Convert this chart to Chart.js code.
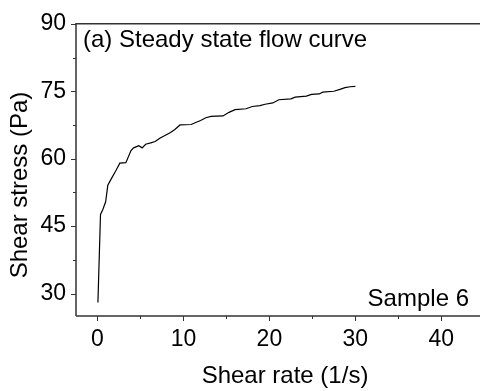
<!DOCTYPE html>
<html>
<head>
<meta charset="utf-8">
<script src="https://cdn.jsdelivr.net/npm/chart.js@4"></script>
<style>
    html, body { margin: 0; padding: 0; background: #fff; }
    #wrap { width: 480px; height: 391px; }
</style>
</head>
<body>
<div id="wrap"><canvas id="flow"></canvas></div>
<script>
// steady state flow curve, sample 6
const shearRate = [0.05, 0.35, 0.6, 0.95, 1.2, 1.6, 2.1, 2.6, 3.3, 3.9, 4.2, 4.8, 5.2, 5.6, 6.2, 6.7,
    7.3, 7.9, 8.5, 9.0, 9.6, 10.9, 11.5, 12.0, 12.6, 13.2, 14.6, 15.3, 16.0, 17.3, 18.0, 18.9, 19.5,
    20.4, 21.1, 22.5, 23.0, 24.3, 24.9, 25.8, 26.2, 27.5, 28.2, 28.8, 29.4, 30.0]
const shearStress = [28.0, 47.6, 48.6, 50.4, 54.1, 55.5, 57.2, 59.0, 59.1, 61.8, 62.4, 62.9, 62.4, 63.2, 63.5, 63.8,
    64.6, 65.2, 65.8, 66.5, 67.5, 67.6, 68.1, 68.5, 69.1, 69.4, 69.5, 70.3, 70.9, 71.1, 71.6, 71.8, 72.1,
    72.4, 73.1, 73.3, 73.7, 73.9, 74.3, 74.4, 74.8, 75.0, 75.4, 75.8, 76.0, 76.1]

const xTicks = [0, 10, 20, 30, 40]
const xMinor = [5, 15, 25, 35]
const yTicks = [30, 45, 60, 75, 90]
const yMinor = [37.5, 52.5, 67.5, 82.5]

const axisColor = '#333'
const font = 'Liberation Sans, Arial, sans-serif'

const points = shearRate.map((x, i) => ({x: x, y: shearStress[i]}))

// axis frame, tick marks, titles and the two notes
const decor = {
    id: 'decor',
    afterDraw(chart) {
        const ctx = chart.ctx
        const area = chart.chartArea
        const sx = chart.scales.x
        const sy = chart.scales.y
        ctx.save()
        ctx.strokeStyle = axisColor
        ctx.lineWidth = 1.5
        ctx.beginPath()
        ctx.moveTo(area.left, area.bottom)
        ctx.lineTo(area.left, area.top)
        ctx.lineTo(area.right, area.top)
        ctx.moveTo(area.left, area.bottom)
        ctx.lineTo(area.right, area.bottom)
        ctx.stroke()

        ctx.lineWidth = 1
        ctx.beginPath()
        for (let v of xTicks) {
            const px = Math.round(sx.getPixelForValue(v)) + 0.5
            ctx.moveTo(px, area.bottom); ctx.lineTo(px, area.bottom + 5)
        }
        for (let v of xMinor) {
            const px = Math.round(sx.getPixelForValue(v)) + 0.5
            ctx.moveTo(px, area.bottom); ctx.lineTo(px, area.bottom + 3)
        }
        for (let v of yTicks) {
            const py = Math.round(sy.getPixelForValue(v)) + 0.5
            ctx.moveTo(area.left, py); ctx.lineTo(area.left - 5, py)
        }
        for (let v of yMinor) {
            const py = Math.round(sy.getPixelForValue(v)) + 0.5
            ctx.moveTo(area.left, py); ctx.lineTo(area.left - 3, py)
        }
        ctx.stroke()

        ctx.fillStyle = '#000'
        ctx.font = `24px ${font}`
        ctx.textBaseline = 'alphabetic'
        ctx.textAlign = 'left'
        ctx.fillText('(a) Steady state flow curve', 83, 47)
        ctx.textAlign = 'right'
        ctx.fillText('Sample 6', 469, 306)

        ctx.textAlign = 'center'
        ctx.fillText('Shear rate (1/s)', 285, 383)
        ctx.translate(27, 185)
        ctx.rotate(-Math.PI / 2)
        ctx.fillText('Shear stress (Pa)', 0, 0)
        ctx.restore()
    }
}

new Chart(document.getElementById('flow'), {
    type: 'line',
    data: {
        datasets: [{
            data: points,
            borderColor: '#000',
            borderWidth: 1.2,
            pointRadius: 0,
            tension: 0,
            fill: false
        }]
    },
    options: {
        responsive: true,
        maintainAspectRatio: false,
        animation: false,
        layout: { padding: { top: 20, right: 0, left: 0, bottom: 0 } },
        plugins: { legend: { display: false }, tooltip: { enabled: false } },
        scales: {
            x: {
                type: 'linear',
                min: -2.5,
                max: 44.5,
                grid: { display: false, drawTicks: false },
                border: { display: false },
                afterBuildTicks: (scale) => { scale.ticks = xTicks.map(v => ({value: v})) },
                afterFit: (scale) => { scale.height = 75 },
                ticks: { color: '#000', padding: 10, font: { family: font, size: 23 } }
            },
            y: {
                min: 25,
                max: 90,
                grid: { display: false, drawTicks: false },
                border: { display: false },
                afterBuildTicks: (scale) => { scale.ticks = yTicks.map(v => ({value: v})) },
                afterFit: (scale) => { scale.width = 76 },
                ticks: { color: '#000', padding: 10, font: { family: font, size: 23 } }
            }
        }
    },
    plugins: [decor]
})
</script>
</body>
</html>
